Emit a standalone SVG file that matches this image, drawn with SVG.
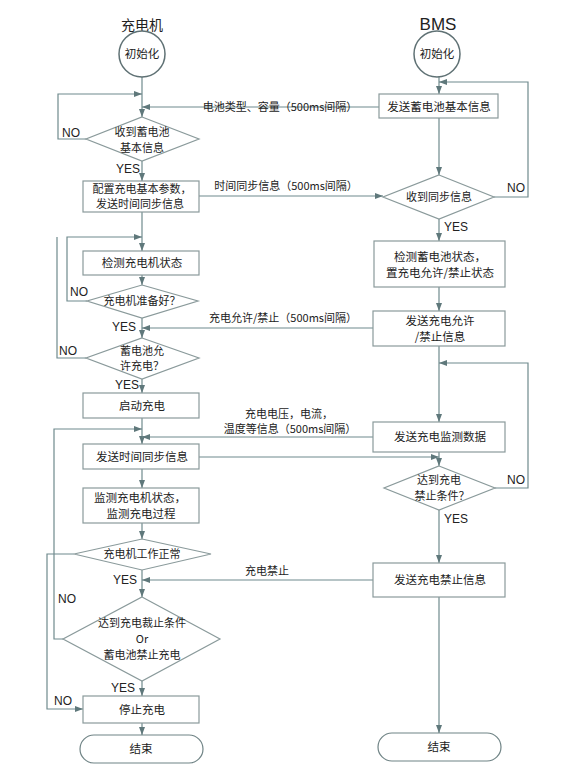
<svg xmlns="http://www.w3.org/2000/svg" width="581" height="773" viewBox="0 0 581 773">
<defs>
<marker id="ah" markerUnits="userSpaceOnUse" markerWidth="9" markerHeight="7" refX="8" refY="3" orient="auto">
<path d="M0,0 L8,3 L0,6 z" fill="#5f787b"/>
</marker>
<style>
.n{fill:#fff;stroke:#8a9a9b;stroke-width:1.2}
.c{fill:#fff;stroke:#5f7174;stroke-width:1.5}
.l{fill:none;stroke:#6f8a8d;stroke-width:1.2}
.a{fill:none;stroke:#6f8a8d;stroke-width:1.2;marker-end:url(#ah)}
text{font-family:"Noto Sans CJK SC","Liberation Sans",sans-serif;fill:#222;font-size:11.5px;text-anchor:middle}
.d{font-size:11px}
.lb{font-size:11px}
.t{font-size:14px}
.y{font-size:12px;font-family:"Liberation Sans","Noto Sans CJK SC",sans-serif}
</style>
</defs>
<rect width="581" height="773" fill="#fff"/>

<g id="connectors">
<line class="a" x1="142" y1="77" x2="142" y2="117"/>
<polyline class="a" points="86,139 58,139 58,94 142,94"/>
<line class="a" x1="379" y1="107" x2="142" y2="107"/>
<line class="a" x1="142" y1="161" x2="142" y2="181"/>
<line class="a" x1="199" y1="196" x2="383" y2="196"/>
<line class="a" x1="142" y1="212" x2="142" y2="251"/>
<polyline class="a" points="87,301 67,301 67,237 142,237"/>
<polyline class="l" points="86,358 57,358 57,237"/>
<line class="a" x1="142" y1="275" x2="142" y2="285"/>
<line class="a" x1="142" y1="318" x2="142" y2="338"/>
<line class="a" x1="373" y1="328" x2="142" y2="328"/>
<line class="a" x1="142" y1="379" x2="142" y2="393"/>
<line class="a" x1="142" y1="418" x2="142" y2="444"/>
<polyline class="a" points="63,639 54,639 54,429 142,429"/>
<line class="a" x1="373" y1="437" x2="142" y2="437"/>
<line class="a" x1="199" y1="457" x2="439" y2="457"/>
<line class="a" x1="142" y1="469" x2="142" y2="488"/>
<line class="a" x1="142" y1="523" x2="142" y2="539"/>
<polyline class="a" points="74,554 47,554 47,709 83,709"/>
<line class="a" x1="142" y1="570" x2="142" y2="597"/>
<line class="a" x1="373" y1="580" x2="142" y2="580"/>
<line class="a" x1="142" y1="681" x2="142" y2="696"/>
<line class="a" x1="142" y1="723" x2="142" y2="735"/>
<line class="a" x1="439" y1="77" x2="439" y2="94"/>
<polyline class="a" points="494,197 528,197 528,82 439,82"/>
<line class="a" x1="439" y1="118" x2="439" y2="175"/>
<line class="a" x1="439" y1="219" x2="439" y2="241"/>
<line class="a" x1="439" y1="287" x2="439" y2="311"/>
<line class="a" x1="439" y1="346" x2="439" y2="422"/>
<polyline class="a" points="495,488 528,488 528,363 439,363"/>
<line class="a" x1="439" y1="452" x2="439" y2="466"/>
<line class="a" x1="439" y1="510" x2="439" y2="563"/>
<line class="a" x1="439" y1="597" x2="439" y2="733"/>
</g>

<g id="labels">
<text class="lb" x="280" y="111">电池类型、容量（500ms间隔）</text>
<text class="lb" x="286" y="190">时间同步信息（500ms间隔）</text>
<text class="lb" x="283" y="322">充电允许/禁止（500ms间隔）</text>
<text class="lb" x="289" y="418">充电电压，电流，</text>
<text class="lb" x="290" y="433">温度等信息（500ms间隔）</text>
<text class="lb" x="267" y="575">充电禁止</text>
<text class="y" x="71" y="137">NO</text>
<text class="y" x="128" y="173">YES</text>
<text class="y" x="516" y="192">NO</text>
<text class="y" x="456" y="231">YES</text>
<text class="y" x="79" y="296">NO</text>
<text class="y" x="124" y="331">YES</text>
<text class="y" x="68" y="355">NO</text>
<text class="y" x="127" y="389">YES</text>
<text class="y" x="516" y="484">NO</text>
<text class="y" x="456" y="523">YES</text>
<text class="y" x="125" y="584">YES</text>
<text class="y" x="67" y="603">NO</text>
<text class="y" x="123" y="692">YES</text>
<text class="y" x="63" y="705">NO</text>
</g>

<g id="title-charger"><text class="t" x="142" y="30">充电机</text></g>
<g id="title-bms"><text x="438" y="30" style="font-family:'Liberation Sans',sans-serif;font-size:17px">BMS</text></g>

<g id="c-init"><circle class="c" cx="142" cy="54" r="23"/><text x="142" y="58">初始化</text></g>
<g id="b-init"><circle class="c" cx="437" cy="54" r="23"/><text x="437" y="58">初始化</text></g>

<g id="c-recv-info"><polygon class="n" points="142,117 199,139 142,161 86,139"/><text class="d" x="142" y="136">收到蓄电池</text><text class="d" x="142" y="152">基本信息</text></g>
<g id="b-send-info"><rect class="n" x="379" y="94" width="119" height="24"/><text x="439" y="111">发送蓄电池基本信息</text></g>

<g id="c-config"><rect class="n" x="83" y="181" width="116" height="31"/><text class="d" x="142" y="193">配置充电基本参数，</text><text class="d" x="140" y="208">发送时间同步信息</text></g>
<g id="b-recv-sync"><polygon class="n" points="439,175 494,197 439,219 383,197"/><text class="d" x="439" y="201">收到同步信息</text></g>

<g id="b-check"><rect class="n" x="374" y="241" width="131" height="46"/><text x="440" y="261">检测蓄电池状态，</text><text x="440" y="277">置充电允许/禁止状态</text></g>
<g id="c-check"><rect class="n" x="83" y="251" width="116" height="24"/><text x="142" y="267">检测充电机状态</text></g>
<g id="c-ready"><polygon class="n" points="142,285 198,301 142,318 87,301"/><text class="d" x="142" y="305">充电机准备好？</text></g>
<g id="b-send-allow"><rect class="n" x="373" y="311" width="132" height="35"/><text x="440" y="325">发送充电允许</text><text x="440" y="341">/禁止信息</text></g>
<g id="c-allow"><polygon class="n" points="142,338 199,358 142,379 86,358"/><text class="d" x="142" y="355">蓄电池允</text><text class="d" x="142" y="370">许充电？</text></g>
<g id="c-start"><rect class="n" x="83" y="393" width="116" height="25"/><text x="142" y="410">启动充电</text></g>
<g id="b-send-monitor"><rect class="n" x="373" y="422" width="132" height="30"/><text x="440" y="441">发送充电监测数据</text></g>
<g id="c-send-sync"><rect class="n" x="83" y="444" width="116" height="25"/><text x="142" y="461">发送时间同步信息</text></g>
<g id="b-stop-cond"><polygon class="n" points="439,466 495,488 439,510 384,488"/><text class="d" x="439" y="484">达到充电</text><text class="d" x="442" y="500">禁止条件？</text></g>
<g id="c-monitor"><rect class="n" x="83" y="488" width="116" height="35"/><text x="140" y="502">监测充电机状态，</text><text x="141" y="518">监测充电过程</text></g>
<g id="c-normal"><polygon class="n" points="142,539 211,554 142,570 74,554"/><text class="d" x="142" y="558">充电机工作正常</text></g>
<g id="b-send-stop"><rect class="n" x="373" y="563" width="132" height="34"/><text x="440" y="584">发送充电禁止信息</text></g>
<g id="c-end-cond"><polygon class="n" points="142,597 220,639 142,681 63,639"/><text class="d" x="142" y="627">达到充电裁止条件</text><text class="d" x="142" y="643">Or</text><text class="d" x="142" y="659">蓄电池禁止充电</text></g>
<g id="c-stop"><rect class="n" x="83" y="696" width="116" height="27"/><text x="142" y="714">停止充电</text></g>
<g id="c-end"><rect class="c" x="80" y="735" width="123" height="28" rx="14" ry="14" style="stroke:#6f8385;stroke-width:1.2"/><text x="141" y="753">结束</text></g>
<g id="b-end"><rect class="c" x="378" y="733" width="123" height="28" rx="14" ry="14" style="stroke:#6f8385;stroke-width:1.2"/><text x="439" y="751">结束</text></g>
</svg>
